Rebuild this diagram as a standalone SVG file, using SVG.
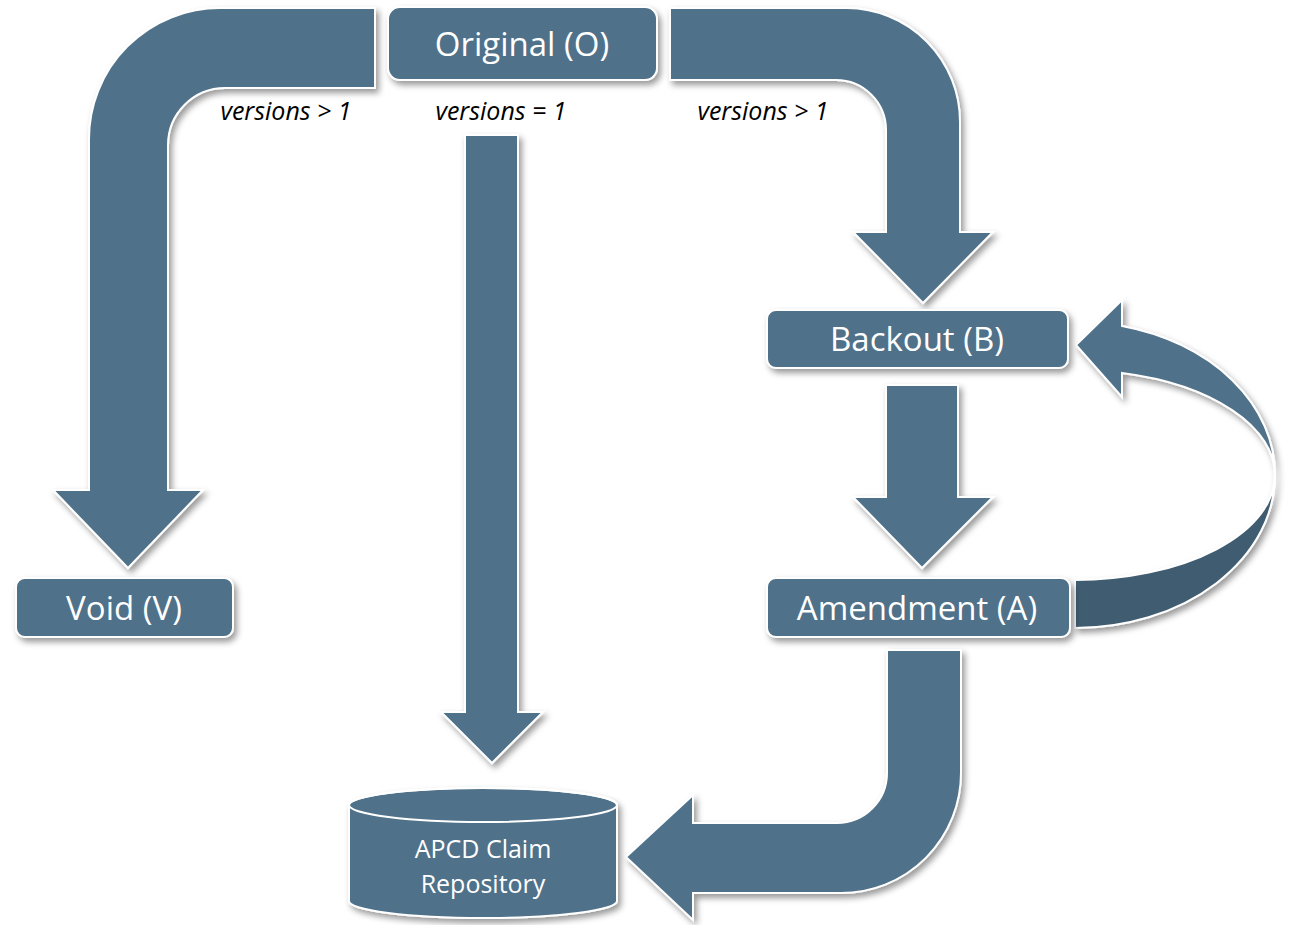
<svg xmlns="http://www.w3.org/2000/svg" width="1291" height="925" viewBox="0 0 1291 925">
<defs>
<filter id="sh" x="-10%" y="-10%" width="130%" height="130%">
<feDropShadow dx="3" dy="4" stdDeviation="3" flood-color="#000" flood-opacity="0.4"/>
</filter>
<style>
.shape{fill:#4F7189;stroke:#FFFFFF;stroke-width:2;filter:url(#sh);}
.dark{fill:#3F5C70;stroke:#FFFFFF;stroke-width:2;}
.lbl{fill:#FFFFFF;font-family:"Open Sans","Noto Sans",sans-serif;text-anchor:middle;}
.cond{fill:#000000;font-family:"Open Sans","Noto Sans",sans-serif;font-style:italic;font-size:25px;text-anchor:middle;}
</style>
</defs>
<rect width="1291" height="925" fill="#FFFFFF"/>
<g id="connectors">
<path class="shape" d="M 375 8 L 220 8 A 131 131 0 0 0 89 139 L 89 490 L 53 490 L 128 568 L 203 490 L 168 490 L 168 145 A 57 57 0 0 1 225 88 L 375 88 Z"/>
<path class="shape" d="M 465 135 L 518 135 L 518 712 L 543 712 L 492 763 L 441 712 L 465 712 Z"/>
<path class="shape" d="M 670 8 L 847 8 A 114 114 0 0 1 960 122 L 960 232 L 993 232 L 923 303 L 853 232 L 886 232 L 886 130 A 50 50 0 0 0 836 80 L 670 80 Z"/>
<path class="shape" d="M 886 385 L 958 385 L 958 497 L 993 497 L 922 568 L 853 497 L 886 497 Z"/>
<path class="shape" d="M 887 650 L 961 650 L 961 773 A 120 120 0 0 1 841 893 L 693 893 L 693 920 L 626 857 L 693 795 L 693 823 L 837 823 A 50 50 0 0 0 887 773 Z"/>
<g filter="url(#sh)">
<path class="dark" d="M 1275 475 A 200 153 0 0 1 1075 628 L 1075 580 A 200 105 0 0 0 1275 475 Z"/>
<path class="shape" style="filter:none" d="M 1122 373 L 1122 397 L 1076 345 L 1122 300 L 1122 326 A 200 153 0 0 1 1275 475 A 200 105 0 0 0 1122 373 Z"/>
</g>
<text class="cond" x="286" y="120">versions &gt; 1</text>
<text class="cond" x="501" y="120">versions = 1</text>
<text class="cond" x="763" y="120">versions &gt; 1</text>
</g>
<g id="original">
<rect class="shape" x="388" y="7" width="269" height="73" rx="12"/>
<text class="lbl" x="522" y="56" font-size="33">Original (O)</text>
</g>
<g id="backout">
<rect class="shape" x="767" y="310" width="301" height="58" rx="9"/>
<text class="lbl" x="917" y="351" font-size="33">Backout (B)</text>
</g>
<g id="amendment">
<rect class="shape" x="767" y="578" width="303" height="59" rx="9"/>
<text class="lbl" x="917" y="620" font-size="33">Amendment (A)</text>
</g>
<g id="void">
<rect class="shape" x="16" y="578" width="217" height="59" rx="9"/>
<text class="lbl" x="124" y="620" font-size="33">Void (V)</text>
</g>
<g id="repository">
<path class="shape" d="M 349 805 A 134 17 0 0 1 617 805 L 617 901 A 134 17 0 0 1 349 901 Z"/>
<ellipse cx="483" cy="805" rx="134" ry="17" fill="none" stroke="#FFFFFF" stroke-width="2"/>
<text class="lbl" x="483" y="858" font-size="25">APCD Claim</text>
<text class="lbl" x="483" y="893" font-size="25">Repository</text>
</g>
</svg>
